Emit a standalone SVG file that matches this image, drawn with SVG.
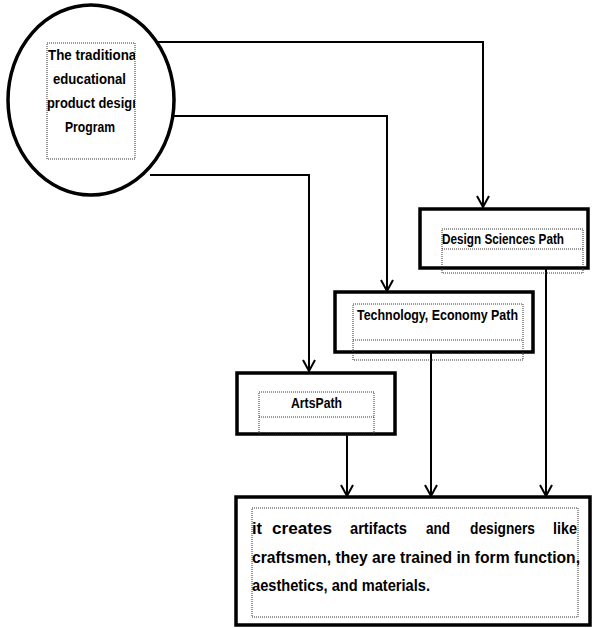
<svg xmlns="http://www.w3.org/2000/svg" width="593" height="628" viewBox="0 0 593 628">
<defs>
<marker id="arr" markerWidth="14" markerHeight="14" refX="13" refY="7" orient="auto" markerUnits="userSpaceOnUse" viewBox="0 0 14 14">
<path d="M2,1 L13,7 L2,13" fill="none" stroke="#000" stroke-width="2"/>
</marker>
<style>
.box{fill:#fff;stroke:#000;stroke-width:3.5}
.dot{fill:none;stroke:#333;stroke-width:1;stroke-dasharray:1 1}
.conn{fill:none;stroke:#000;stroke-width:2}
.t{font-family:"Liberation Sans",Arial,sans-serif;font-weight:bold;fill:#000}
</style>
<clipPath id="cp"><rect x="47" y="43" width="88" height="116"/></clipPath>
</defs>
<rect width="593" height="628" fill="#fff"/>
<g id="connectors">
<path class="conn" d="M155,42 H483 V207" marker-end="url(#arr)"/>
<path class="conn" d="M172,116 H387 V291" marker-end="url(#arr)"/>
<path class="conn" d="M150,175 H309 V371" marker-end="url(#arr)"/>
<path class="conn" d="M347,434 V496" marker-end="url(#arr)"/>
<path class="conn" d="M431,352 V496" marker-end="url(#arr)"/>
<path class="conn" d="M546,268 V496" marker-end="url(#arr)"/>
</g>
<g id="program">
<ellipse cx="91" cy="100" rx="83" ry="95" fill="#fff" stroke="#000" stroke-width="3.5"/>
<rect class="dot" x="47" y="43" width="88" height="116"/>
<g clip-path="url(#cp)" class="t" font-size="15">
<text x="48" y="60" textLength="92" lengthAdjust="spacingAndGlyphs">The traditional</text>
<text x="53" y="84" textLength="73" lengthAdjust="spacingAndGlyphs">educational</text>
<text x="47" y="108" textLength="93" lengthAdjust="spacingAndGlyphs">product design</text>
<text x="65" y="132" textLength="50" lengthAdjust="spacingAndGlyphs">Program</text>
</g>
</g>
<g id="design">
<rect class="box" x="420" y="209" width="168" height="59"/>
<rect class="dot" x="442" y="229" width="141" height="44"/>
<line class="dot" x1="442" y1="249" x2="583" y2="249"/>
<text class="t" x="442" y="244" font-size="15" textLength="122" lengthAdjust="spacingAndGlyphs">Design Sciences Path</text>
</g>
<g id="technology">
<rect class="box" x="335" y="292" width="198" height="60"/>
<rect class="dot" x="353" y="304" width="170" height="56"/>
<line class="dot" x1="353" y1="340" x2="523" y2="340"/>
<text class="t" x="357" y="320" font-size="15" textLength="161" lengthAdjust="spacingAndGlyphs">Technology, Economy Path</text>
</g>
<g id="arts">
<rect class="box" x="237" y="373" width="158" height="61"/>
<rect class="dot" x="259" y="392" width="115" height="43"/>
<line class="dot" x1="259" y1="417" x2="374" y2="417"/>
<text class="t" x="291" y="408" font-size="15" textLength="51" lengthAdjust="spacingAndGlyphs">ArtsPath</text>
</g>
<g id="result">
<rect class="box" x="236" y="497" width="354" height="128"/>
<rect class="dot" x="252" y="508" width="326" height="109"/>
<g class="t" font-size="17">
<text x="252" y="534" textLength="10" lengthAdjust="spacingAndGlyphs">it</text>
<text x="272" y="534" textLength="60" lengthAdjust="spacingAndGlyphs">creates</text>
<text x="350" y="534" textLength="57" lengthAdjust="spacingAndGlyphs">artifacts</text>
<text x="426" y="534" textLength="24" lengthAdjust="spacingAndGlyphs">and</text>
<text x="470" y="534" textLength="65" lengthAdjust="spacingAndGlyphs">designers</text>
<text x="553" y="534" textLength="24" lengthAdjust="spacingAndGlyphs">like</text>
<text x="252" y="563" textLength="328" lengthAdjust="spacingAndGlyphs">craftsmen, they are trained in form function,</text>
<text x="252" y="591" textLength="178" lengthAdjust="spacingAndGlyphs">aesthetics, and materials.</text>
</g>
</g>
</svg>
